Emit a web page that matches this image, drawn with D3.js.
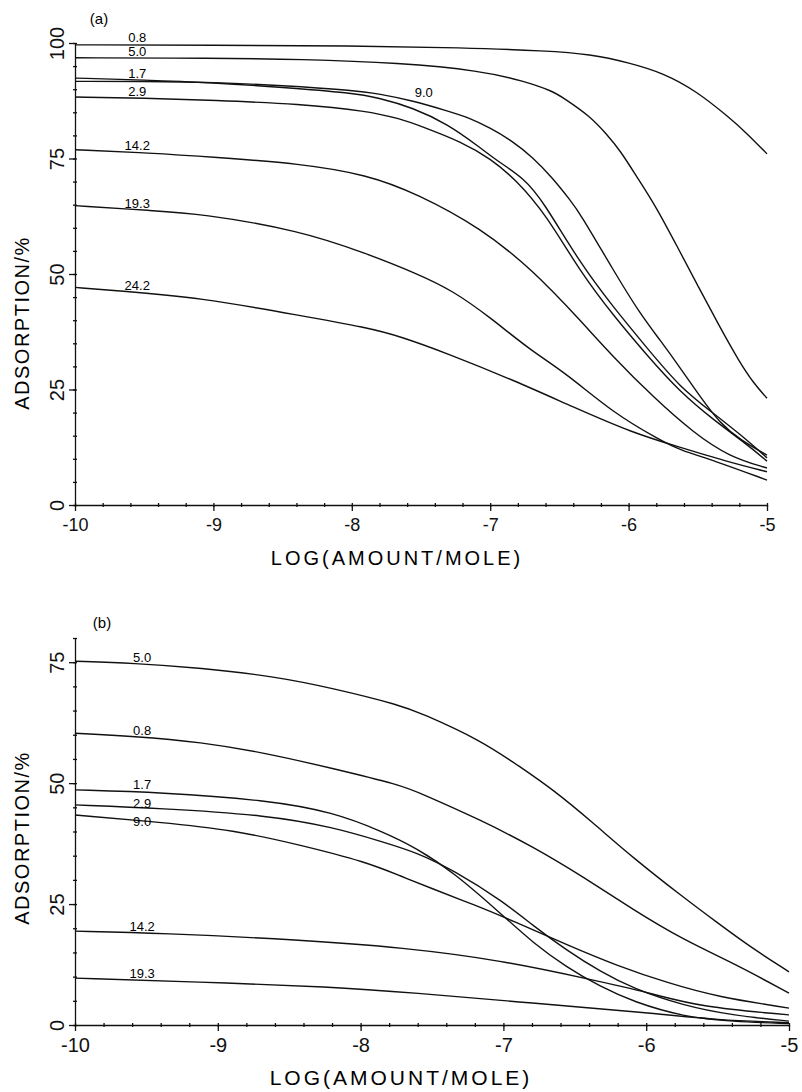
<!DOCTYPE html>
<html>
<head>
<meta charset="utf-8">
<script src="https://cdn.jsdelivr.net/npm/d3@7"></script>
<style>
  body { margin: 0; background: #fff; }
  svg { display: block; background: #fff; font-family: 'Liberation Sans', Arial, sans-serif; }
  .curve { fill: none; stroke: #111; stroke-width: 1.4; }
  .axis path, .axis line { stroke: #111; stroke-width: 1.3; }
  .axis text { fill: #111; }
  .minor path { display: none; }
</style>
</head>
<body>
<svg width="802" height="1092"></svg>
<script>
// curve labels and where they sit along the x axis (log units)
const curvesA = ['0.8', '5.0', '1.7', '2.9', '9.0', '14.2', '19.3', '24.2']
const labelAtA = [-9.55, -9.55, -9.55, -9.55, -7.48, -9.55, -9.55, -9.55]
const curvesB = ['5.0', '0.8', '1.7', '2.9', '9.0', '14.2', '19.3']
const labelAtB = [-9.53, -9.53, -9.53, -9.53, -9.53, -9.53, -9.53]

// tick labels
const xTicks = [-10, -9, -8, -7, -6, -5]
const yTicksA = [0, 25, 50, 75, 100]
const yTicksB = [0, 25, 50, 75]

// panel (a): [log(amount/mole), adsorption %]
const a08 = [[-10, 99.6], [-9, 99.5], [-8, 99.4], [-7.2, 99.0], [-6.59, 98.3], [-6.28, 97.6], [-5.99, 95.7], [-5.75, 93.5], [-5.51, 89.6], [-5.27, 83.8], [-5.14, 80.3], [-5, 76.0]]
const a50 = [[-10, 96.8], [-9, 96.7], [-8.37, 96.5], [-7.65, 95.7], [-7.07, 94.0], [-6.76, 91.8], [-6.55, 89.6], [-6.47, 88.1], [-6.28, 84.2], [-6.16, 80.3], [-6.06, 76.7], [-5.94, 71.0], [-5.8, 64.5], [-5.65, 56.0], [-5.5, 47.5], [-5.35, 39.0], [-5.2, 31.0], [-5.1, 26.5], [-5, 23.1]]
const a17 = [[-10, 92.4], [-9.5, 92.0], [-9, 91.4], [-8.5, 90.4], [-8, 89.2], [-7.8, 88.1], [-7.56, 86.0], [-7.31, 82.5], [-7.07, 77.3], [-6.95, 74.5], [-6.76, 70.8], [-6.62, 65.9], [-6.35, 52.3], [-6.11, 42.8], [-5.87, 34.1], [-5.63, 25.5], [-5.39, 19.9], [-5.14, 14.0], [-5, 10.2]]
const a29 = [[-10, 88.3], [-9.5, 88.1], [-9, 87.6], [-8.37, 86.8], [-7.89, 85.3], [-7.65, 83.6], [-7.5, 82.0], [-7.2, 78.5], [-7.0, 75.0], [-6.81, 70.3], [-6.6, 63.0], [-6.35, 50.5], [-6.11, 41.0], [-5.87, 32.5], [-5.63, 24.5], [-5.39, 18.5], [-5.14, 13.0], [-5, 9.5]]
const a90 = [[-10, 91.7], [-9.5, 91.7], [-9, 91.5], [-8.5, 90.8], [-8, 89.8], [-7.8, 89.0], [-7.56, 87.5], [-7.31, 85.3], [-7.15, 83.8], [-7, 81.6], [-6.84, 78.8], [-6.69, 75.2], [-6.55, 70.8], [-6.42, 65.9], [-6.35, 63.1], [-6.11, 50.8], [-5.92, 41.5], [-5.77, 35.6], [-5.63, 29.8], [-5.48, 23.3], [-5.34, 17.7], [-5.19, 14.0], [-5, 10.8]]
const a142 = [[-10, 76.9], [-9.46, 76.2], [-9, 75.3], [-8.37, 73.9], [-7.89, 71.5], [-7.53, 67.4], [-7.07, 60.0], [-6.69, 50.8], [-6.35, 40.0], [-6.11, 32.0], [-5.82, 23.3], [-5.53, 15.6], [-5.27, 10.4], [-5, 8.0]]
const a193 = [[-10, 64.8], [-9.44, 63.7], [-9.1, 63.1], [-8.37, 59.4], [-7.89, 54.4], [-7.53, 50.1], [-7.27, 46.4], [-7.0, 40.6], [-6.71, 33.5], [-6.45, 28.5], [-6.11, 19.9], [-5.77, 14.0], [-5.63, 11.9], [-5.39, 9.7], [-5, 5.4]]
const a242 = [[-10, 47.1], [-9.7, 46.4], [-9.1, 44.9], [-8.37, 41.0], [-7.89, 38.4], [-7.65, 36.5], [-7.31, 32.8], [-6.83, 27.0], [-6.4, 21.2], [-5.97, 15.6], [-5.63, 12.5], [-5.3, 9.5], [-5, 7.2]]

// panel (b)
const b50 = [[-10, 75.2], [-9.59, 74.8], [-9.12, 73.8], [-8.61, 72.1], [-8.19, 69.6], [-7.72, 66.1], [-7.58, 64.5], [-7.16, 58.9], [-6.88, 53.3], [-6.65, 48.6], [-6.38, 42.0], [-6.09, 34.5], [-5.74, 26.4], [-5.5, 21.1], [-5.27, 16.1], [-5, 11.0]]
const b08 = [[-10, 60.3], [-9.59, 59.7], [-9.12, 58.5], [-8.66, 56.2], [-8.19, 53.0], [-7.72, 49.6], [-7.58, 47.9], [-7.16, 42.4], [-6.79, 36.8], [-6.44, 30.6], [-6.09, 23.8], [-5.74, 17.6], [-5.39, 12.8], [-5, 6.6]]
const b17 = [[-10, 48.6], [-9.4, 48.1], [-8.66, 46.5], [-8.19, 44.0], [-7.84, 39.9], [-7.61, 36.6], [-7.35, 31.6], [-7.02, 23.1], [-6.79, 16.9], [-6.56, 12.0], [-6.32, 7.9], [-6.09, 4.8], [-5.74, 1.7], [-5.4, 0.7], [-5, 0.3]]
const b29 = [[-10, 45.5], [-9.4, 44.8], [-8.66, 43.4], [-8.19, 40.9], [-7.84, 37.8], [-7.61, 35.7], [-7.35, 32.0], [-7.0, 25.5], [-6.79, 20.5], [-6.56, 15.5], [-6.32, 11.0], [-6.09, 7.5], [-5.74, 4.0], [-5.4, 2.0], [-5, 0.8]]
const b90 = [[-10, 43.4], [-9.4, 41.9], [-8.89, 40.3], [-8.42, 37.2], [-7.96, 33.7], [-7.72, 30.8], [-7.5, 28.2], [-7.2, 24.8], [-6.93, 21.5], [-6.55, 16.5], [-6.2, 12.2], [-5.85, 8.7], [-5.5, 5.8], [-5, 3.5]]
const b142 = [[-10, 19.4], [-9.4, 19.0], [-8.42, 17.6], [-7.7, 16.0], [-7.02, 13.4], [-6.37, 9.3], [-5.97, 6.6], [-5.62, 3.7], [-5, 2.1]]
const b193 = [[-10, 9.7], [-9.15, 8.9], [-8.19, 7.9], [-7.65, 6.7], [-6.79, 4.5], [-5.97, 2.5], [-5.5, 1.0], [-5, 0.5]]

// label offsets from their curve, in pixels (negative = above)
const labelLiftA = [-3, -2, -2, -2, -7, -2, -2, -2]
const labelLiftB = [-2, -2, -3, 0, 5, -2, -2]

const svg = d3
.select('svg')

// linear interpolation along a curve, used to set the label height
const valueAt = (pts, v) => {
  for (let i = 1; i < pts.length; i++) {
    if (v <= pts[i][0]) {
      const t = (v - pts[i - 1][0]) / (pts[i][0] - pts[i - 1][0])
      return pts[i - 1][1] + t * (pts[i][1] - pts[i - 1][1])
    }
  }
  return pts[pts.length - 1][1]
}

const drawPanel = (p) => {
  const g = svg.append('g')
  const bottom = p.y.range()[0]
  const left = p.x.range()[0]

  // minor ticks, small marks across the axes
  g
  .append('g')
  .attr('class', 'axis minor')
  .attr('transform', `translate(0, ${bottom})`)
  .call(d3.axisBottom(p.x).tickValues(d3.range(-10, -4.99, 0.2)).tickFormat(''))
  .call(a => a.selectAll('.tick line').attr('y1', -2).attr('y2', 2))

  g
  .append('g')
  .attr('class', 'axis minor')
  .attr('transform', `translate(${left}, 0)`)
  .call(d3.axisLeft(p.y).tickValues(d3.range(0, p.y.domain()[1] + 0.1, 5)).tickFormat(''))
  .call(a => a.selectAll('.tick line').attr('x1', -2).attr('x2', 2))

  // x axis
  g
  .append('g')
  .attr('class', 'axis')
  .attr('transform', `translate(0, ${bottom})`)
  .call(d3.axisBottom(p.x).tickValues(xTicks).tickSize(6).tickSizeOuter(0).tickPadding(7).tickFormat(d => String(d)))
  .attr('font-size', p.xFont)
  .attr('font-family', null)

  // y axis with rotated labels
  g
  .append('g')
  .attr('class', 'axis')
  .attr('transform', `translate(${left}, 0)`)
  .call(d3.axisLeft(p.y).tickValues(p.yTicks).tickSize(6).tickSizeOuter(0))
  .attr('font-size', 20)
  .attr('font-family', null)
  .call(a => a.selectAll('text')
    .attr('transform', 'rotate(-90)')
    .attr('x', 0)
    .attr('y', -11)
    .attr('dy', 0)
    .attr('text-anchor', 'middle'))

  // curves
  const line = d3.line()
  .x(d => p.x(d[0]))
  .y(d => p.y(d[1]))
  .curve(d3.curveBasis)

  g
  .selectAll('.curve')
  .data(p.series)
  .join('path')
  .attr('class', 'curve')
  .attr('d', s => line(s.pts))

  // curve labels
  g
  .selectAll('.curveLabel')
  .data(p.series)
  .join('text')
  .attr('class', 'curveLabel')
  .attr('x', s => p.x(s.at))
  .attr('y', s => p.y(valueAt(s.pts, s.at)) + s.lift)
  .attr('text-anchor', 'middle')
  .attr('font-size', 13)
  .text(s => s.label)

  // panel letter
  g
  .append('text')
  .attr('x', p.tag[1])
  .attr('y', p.tag[2])
  .attr('text-anchor', 'middle')
  .attr('font-size', 15)
  .text(p.tag[0])

  // axis titles
  g
  .append('text')
  .attr('x', p.xTitle[0])
  .attr('y', p.xTitle[1])
  .attr('text-anchor', 'middle')
  .attr('font-size', p.xTitle[2])
  .attr('letter-spacing', 3)
  .text('LOG(AMOUNT/MOLE)')

  g
  .append('text')
  .attr('transform', `translate(29, ${p.yTitleY}) rotate(-90)`)
  .attr('text-anchor', 'middle')
  .attr('font-size', 20)
  .attr('letter-spacing', 1.5)
  .text('ADSORPTION/%')
}

const ptsA = [a08, a50, a17, a29, a90, a142, a193, a242]
const ptsB = [b50, b08, b17, b29, b90, b142, b193]

drawPanel({
  x: d3.scaleLinear().domain([-10, -5]).range([75, 767]),
  y: d3.scaleLinear().domain([0, 100]).range([505, 43]),
  yTicks: yTicksA,
  xFont: 18,
  series: curvesA.map((label, i) => ({label, pts: ptsA[i], at: labelAtA[i], lift: labelLiftA[i]})),
  tag: ['(a)', 99, 24],
  xTitle: [397, 565, 20],
  yTitleY: 323
})

drawPanel({
  x: d3.scaleLinear().domain([-10, -5]).range([75, 789]),
  y: d3.scaleLinear().domain([0, 80]).range([1025, 638]),
  yTicks: yTicksB,
  xFont: 20,
  series: curvesB.map((label, i) => ({label, pts: ptsB[i], at: labelAtB[i], lift: labelLiftB[i]})),
  tag: ['(b)', 102, 628],
  xTitle: [401, 1085, 21],
  yTitleY: 838
})
</script>
</body>
</html>
